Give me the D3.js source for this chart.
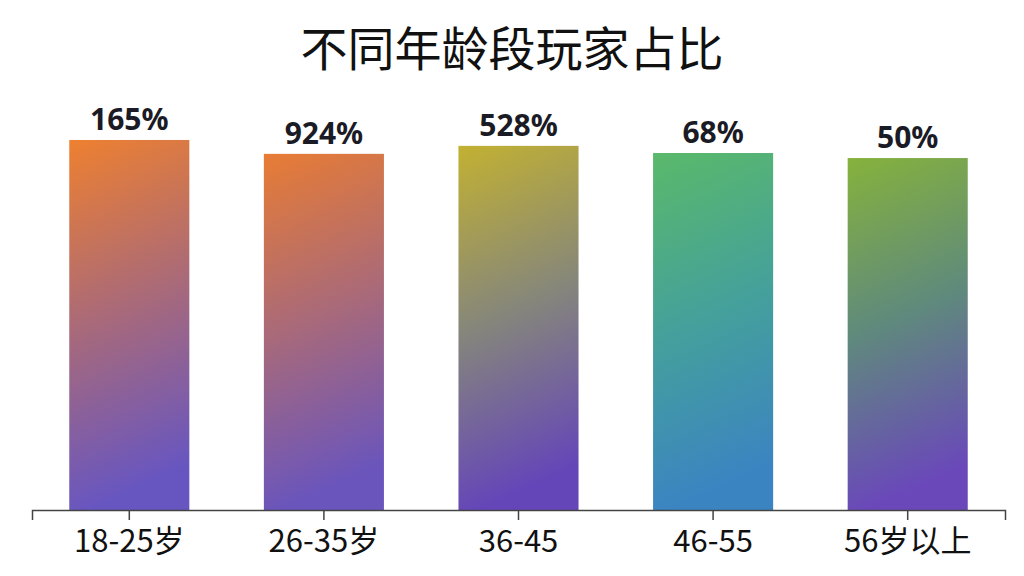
<!DOCTYPE html>
<html><head><meta charset="utf-8">
<script src="https://cdn.jsdelivr.net/npm/d3@7"></script>
<style>html,body{margin:0;padding:0;background:#fff;}svg{display:block;}</style>
</head><body>
<svg id="chart" width="1024" height="576"></svg>
<script>
// ---- data ----
const categories = ["18-25岁", "26-35岁", "36-45", "46-55", "56岁以上"];
const barValues = [88.1, 84.8, 86.7, 85.0, 83.8];
const valueLabels = ["165%", "924%", "528%", "68%", "50%"];
const titleText = "不同年龄段玩家占比";
const gradTop = ["#ee8030", "#e87c34", "#c2b132", "#5ab96a", "#86b23c"];
const gradMid = ["#aa6a78", "#aa6a78", "#86877a", "#45a19a", "#5f8a7c"];
const gradBottom = ["#6856c0", "#6a55bc", "#6546b8", "#3b84c2", "#6a48ba"];

const svg = d3.select("#chart");
const W = 1024, H = 576;
const x = d3.scaleBand().domain(categories).range([32, 1005]).padding(0);
const y = d3.scaleLinear().domain([0, 100]).range([510, 90]);
const barW = x.bandwidth() * 0.617;

const defs = svg.append("defs");
categories.forEach((c, i) => {
  const g = defs.append("linearGradient").attr("id", "g" + i)
    .attr("x1", "0").attr("y1", "0").attr("x2", "0.15").attr("y2", "1");
  g.append("stop").attr("offset", "0%").attr("stop-color", gradTop[i]);
  g.append("stop").attr("offset", "50%").attr("stop-color", gradMid[i]);
  g.append("stop").attr("offset", "100%").attr("stop-color", gradBottom[i]);
});

svg.append("text").attr("x", W / 2).attr("y", 45)
  .attr("text-anchor", "middle").attr("dominant-baseline", "central")
  .attr("font-family", "'Noto Sans CJK SC', sans-serif").attr("font-size", 47)
  .attr("font-weight", 400).attr("fill", "#111").text(titleText);

svg.selectAll("rect.bar").data(categories).enter().append("rect")
  .attr("class", "bar")
  .attr("x", d => x(d) + x.bandwidth() / 2 - barW / 2)
  .attr("y", (d, i) => y(barValues[i]))
  .attr("width", barW)
  .attr("height", (d, i) => y(0) - y(barValues[i]))
  .attr("fill", (d, i) => `url(#g${i})`);

svg.selectAll("text.val").data(categories).enter().append("text")
  .attr("class", "val")
  .attr("x", d => x(d) + x.bandwidth() / 2)
  .attr("y", (d, i) => y(barValues[i]) - 10)
  .attr("text-anchor", "middle")
  .attr("font-family", "'Noto Sans', 'Open Sans', sans-serif")
  .attr("font-size", 30).attr("font-weight", 700).attr("fill", "#1b1b26")
  .text((d, i) => valueLabels[i]);

const axis = d3.axisBottom(x).tickSize(10).tickSizeOuter(10).tickPadding(10);
const ax = svg.append("g").attr("transform", `translate(0,${y(0)})`).call(axis);
ax.select(".domain").attr("stroke", "#444").attr("stroke-width", 1.5);
ax.selectAll(".tick line").attr("stroke", "#444").attr("stroke-width", 1.5);
ax.selectAll(".tick text")
  .attr("font-family", "'Liberation Sans Narrow', 'Noto Sans CJK SC', sans-serif")
  .attr("font-size", 31).attr("fill", "#111");
</script>
</body></html>
